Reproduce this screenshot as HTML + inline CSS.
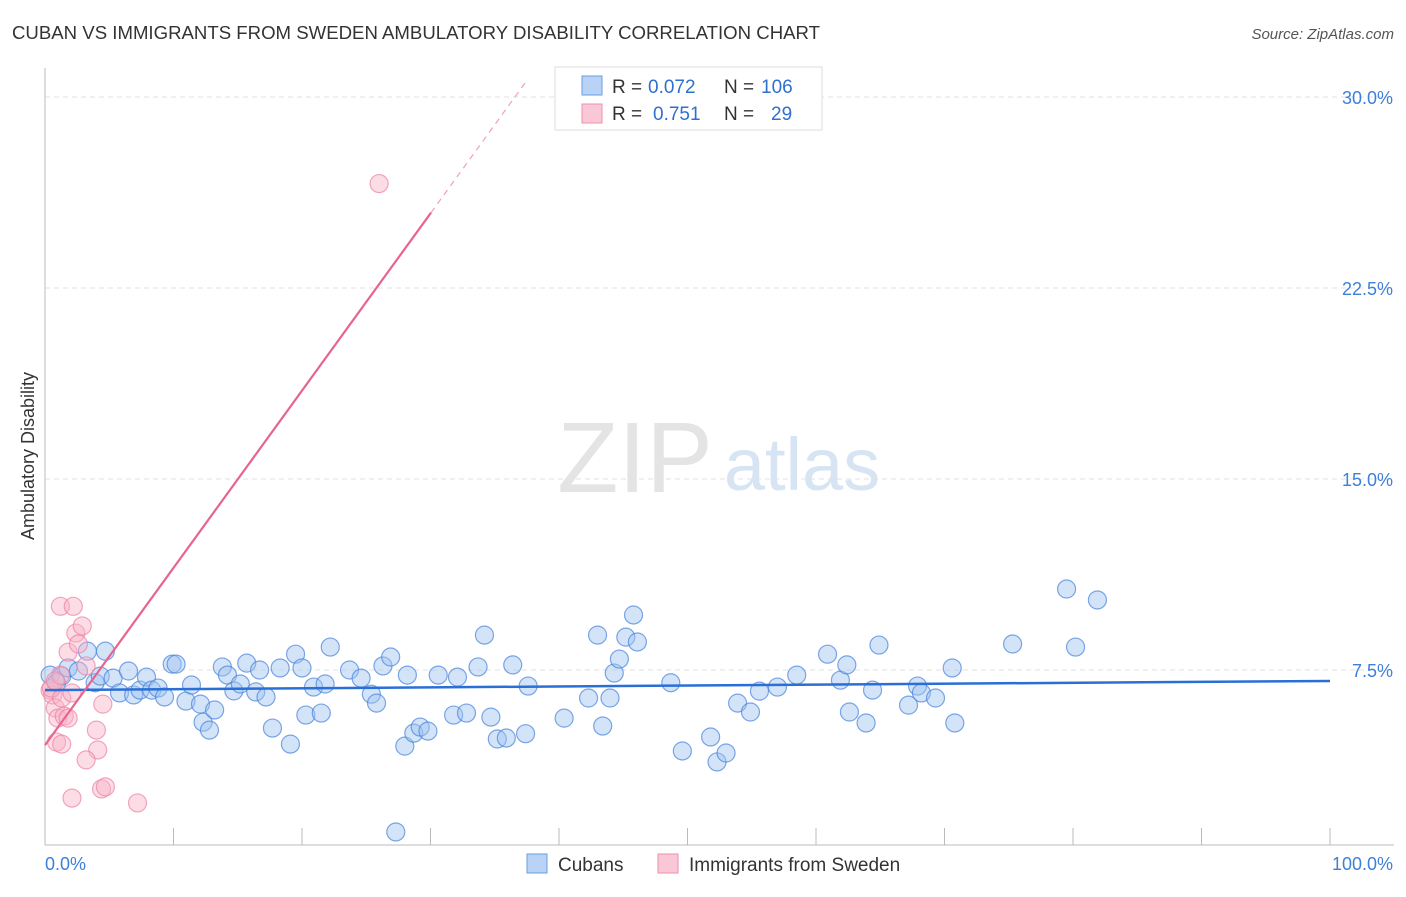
<!DOCTYPE html>
<html><head><meta charset="utf-8"><style>
body{margin:0;background:#fff;font-family:"Liberation Sans",sans-serif}
svg text{font-family:"Liberation Sans",sans-serif}
</style></head><body>
<svg width="1406" height="892" viewBox="0 0 1406 892" id="chart">
<text x="12" y="39" font-size="18.5" fill="#333" textLength="808" lengthAdjust="spacingAndGlyphs">CUBAN VS IMMIGRANTS FROM SWEDEN AMBULATORY DISABILITY CORRELATION CHART</text>
<text x="1394" y="39" font-size="15" fill="#555" font-style="italic" text-anchor="end">Source: ZipAtlas.com</text>
<text x="0" y="0" transform="translate(34,456) rotate(-90)" font-size="18" fill="#333" text-anchor="middle">Ambulatory Disability</text>
<g>
<text x="635" y="492" font-size="100" fill="#e4e4e4" font-family="Liberation Serif" text-anchor="middle">ZIP</text>
<text x="802" y="490" font-size="74" fill="#d6e4f4" text-anchor="middle">atlas</text>
</g>
<g id="grid"></g><g id="axes"></g><g id="marks"></g>
<g>
<rect x="555" y="67" width="267" height="63" fill="#fff" stroke="#ddd"/>
<rect x="582" y="76" width="20" height="19" fill="#b8d3f5" stroke="#6a9ee0"/>
<rect x="582" y="104" width="20" height="19" fill="#f9c7d5" stroke="#ee92ae"/>
<text x="612" y="93" font-size="19" fill="#333">R = <tspan x="648" fill="#2f6fd0">0.072</tspan><tspan x="724">N = </tspan><tspan x="761" fill="#2f6fd0">106</tspan></text>
<text x="612" y="120" font-size="19" fill="#333">R = <tspan x="653" fill="#2f6fd0">0.751</tspan><tspan x="724">N = </tspan><tspan x="771" fill="#2f6fd0">29</tspan></text>
</g>
<g>
<rect x="527" y="854" width="20" height="19" fill="#b8d3f5" stroke="#6a9ee0"/>
<text x="558" y="871" font-size="19" fill="#333">Cubans</text>
<rect x="658" y="854" width="20" height="19" fill="#f9c7d5" stroke="#ee92ae"/>
<text x="689" y="871" font-size="19" fill="#333">Immigrants from Sweden</text>
</g>
</svg>
<script>
const yTicks=[7.5,15,22.5,30];
const yTickLabels=["7.5%","15.0%","22.5%","30.0%"];
const xTickLabels=["0.0%","100.0%"];
const cubansX=[0.4,0.9,1.3,1.8,2.6,3.3,3.9,4.3,4.7,5.3,5.8,6.5,6.9,7.4,7.9,8.3,8.8,9.3,9.9,10.2,10.97,11.4,12.1,12.3,12.8,13.2,13.8,14.2,14.7,15.2,15.7,16.4,16.7,17.2,17.7,18.3,19.1,19.5,20,20.3,20.9,21.5,21.8,22.2,23.7,24.6,25.4,25.8,26.3,26.9,27.3,28,28.2,28.7,29.2,29.8,30.6,31.8,32.1,32.8,33.7,34.2,34.7,35.2,35.9,36.4,37.4,37.6,40.4,42.3,43,43.4,43.97,44.3,44.7,45.2,45.8,46.1,48.7,49.6,51.8,52.3,53,53.9,54.9,55.6,57,58.5,60.9,61.9,62.4,62.6,63.9,64.4,64.9,67.2,67.9,68.2,69.3,70.6,70.8,75.3,79.5,80.2,81.9];
const cubansY=[7.3,7.0,7.26,7.58,7.46,8.24,7.0,7.26,8.24,7.18,6.6,7.46,6.52,6.71,7.22,6.71,6.79,6.44,7.73,7.73,6.28,6.91,6.16,5.45,5.14,5.93,7.62,7.3,6.68,6.95,7.77,6.64,7.5,6.44,5.22,7.58,4.59,8.12,7.58,5.73,6.83,5.81,6.95,8.4,7.5,7.18,6.55,6.2,7.66,8.01,1.14,4.51,7.3,5.02,5.26,5.1,7.3,5.73,7.22,5.81,7.62,8.87,5.65,4.79,4.83,7.7,5.0,6.87,5.61,6.4,8.87,5.3,6.4,7.38,7.93,8.79,9.66,8.6,7.0,4.32,4.87,3.89,4.24,6.2,5.85,6.67,6.83,7.3,8.12,7.1,7.7,5.85,5.42,6.71,8.48,6.12,6.87,6.6,6.4,7.58,5.42,8.52,10.68,8.4,10.25];
const swedenX=[0.4,0.6,0.8,1.0,0.5,0.9,1.2,1.3,1.3,1.5,1.8,1.8,2.1,1.2,2.2,2.4,2.6,2.9,3.2,4.0,4.1,3.2,2.1,4.4,4.7,7.2,4.5,26,0.8];
const swedenY=[6.71,6.52,6.01,5.61,6.79,4.67,7.3,4.59,6.4,5.69,5.61,8.2,6.6,10.0,10.0,8.95,8.52,9.23,7.66,5.14,4.36,3.97,2.47,2.83,2.91,2.28,6.16,26.6,7.07];
const trendBlue=[6.71,7.07];
const trendPink=[4.55,0.696];
const x0=45,x1=1330,yZero=861,yTop=97;
const sx=v=>x0+(x1-x0)*v/100;
const sy=v=>yZero-(yZero-yTop)*v/30;
const NS="http://www.w3.org/2000/svg";
function mk(tag,attrs,parent){const e=document.createElementNS(NS,tag);for(const k in attrs)e.setAttribute(k,attrs[k]);parent.appendChild(e);return e;}
const grid=document.getElementById('grid'),axes=document.getElementById('axes'),marks=document.getElementById('marks');
yTicks.forEach((t,i)=>{
 const l=mk('line',{x1:x0,x2:1394,y1:sy(t),y2:sy(t),stroke:'#e2e2e2','stroke-dasharray':'5,4'},grid);
 
 
 const tx=mk('text',{x:1393,y:sy(t)+7,'font-size':18,fill:'#3d7fd9','text-anchor':'end'},axes);
 tx.textContent=yTickLabels[i];
 
 
});
let ax=mk('line',{x1:x0,x2:x0,y1:68,y2:845,stroke:'#bbb'},axes);


let bx=mk('line',{x1:x0,x2:1394,y1:845,y2:845,stroke:'#bbb'},axes);


for(let i=1;i<=10;i++){const t=mk('line',{x1:sx(i*10),x2:sx(i*10),y1:828,y2:845,stroke:'#bbb'},axes);
 
 }
let xl=mk('text',{x:45,y:870,'font-size':18,fill:'#3d7fd9'},axes);xl.textContent=xTickLabels[0];


let xr=mk('text',{x:1393,y:870,'font-size':18,fill:'#3d7fd9','text-anchor':'end'},axes);xr.textContent=xTickLabels[1];


cubansX.forEach((v,i)=>{const c=mk('circle',{cx:sx(v),cy:sy(cubansY[i]),r:9,fill:'rgba(160,196,240,0.45)',stroke:'rgba(70,130,220,0.7)','stroke-width':1.2},marks);
 
 });
swedenX.forEach((v,i)=>{const c=mk('circle',{cx:sx(v),cy:sy(swedenY[i]),r:9,fill:'rgba(248,180,200,0.45)',stroke:'rgba(236,130,165,0.7)','stroke-width':1.2},marks);
 
 });
let tb=mk('line',{x1:sx(0),y1:sy(trendBlue[0]),x2:sx(100),y2:sy(trendBlue[1]),stroke:'#2a6fd6','stroke-width':2.5},marks);


const pEnd=30.04,pDash=37.5;
let tp=mk('line',{x1:sx(0),y1:sy(trendPink[0]),x2:sx(pEnd),y2:sy(trendPink[0]+trendPink[1]*pEnd),stroke:'#e8648f','stroke-width':2.2},marks);


let td=mk('line',{x1:sx(pEnd),y1:sy(trendPink[0]+trendPink[1]*pEnd),x2:sx(pDash),y2:sy(trendPink[0]+trendPink[1]*pDash),stroke:'#f0a0b8','stroke-width':1.2,'stroke-dasharray':'6,5'},marks);


</script>
</body></html>
